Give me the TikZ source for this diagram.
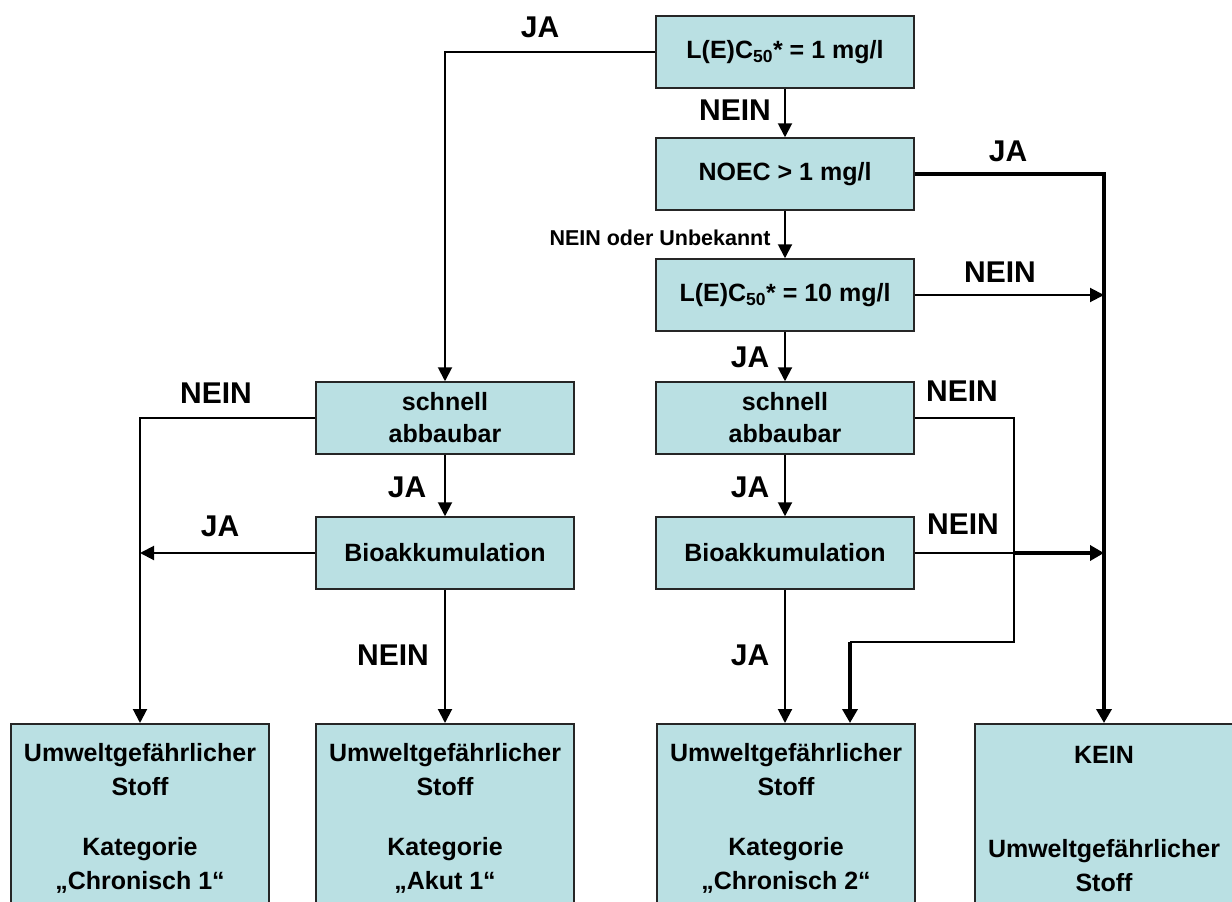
\documentclass[tikz,border=0pt]{standalone}
\usepackage{fontspec}
\setmainfont{Liberation Sans}
\usetikzlibrary{arrows.meta}

\definecolor{boxfill}{RGB}{186,224,227}

\begin{document}
\begin{tikzpicture}[x=1pt, y=-1pt]
\tikzstyle{box}=[rectangle, draw=black!85, line width=1.5pt, fill=boxfill, minimum width=258pt, minimum height=72pt, inner sep=2pt, align=center, font=\fontsize{25}{32}\selectfont\bfseries]
\tikzstyle{endbox}=[box, anchor=north, minimum height=190pt, font=\fontsize{25}{34}\selectfont\bfseries]
\tikzstyle{lbl}=[font=\fontsize{30}{32}\selectfont\bfseries]
\tikzstyle{drawstyle}=[line width=2pt, -{Triangle[length=14pt,width=14pt]}]
\tikzstyle{thickstyle}=[line width=4.5pt, -{Triangle[length=14pt,width=15pt]}]

\useasboundingbox (0,0) rectangle (1232,902);

% right column
\node[box] (lec1) at (785,52) {L(E)C\textsubscript{50}* = 1 mg/l};
\node[box] (noec) at (785,174) {NOEC > 1 mg/l};
\node[box] (lec10) at (785,295) {L(E)C\textsubscript{50}* = 10 mg/l};
\node[box] (abbauR) at (785,418) {schnell\\abbaubar};
\node[box] (bioR) at (785,553) {Bioakkumulation};

% left column
\node[box] (abbauL) at (445,418) {schnell\\abbaubar};
\node[box] (bioL) at (445,553) {Bioakkumulation};

% results
\node[endbox] (chron1) at (140,723) {Umweltgefährlicher\\Stoff\\[26pt]Kategorie\\„Chronisch 1“};
\node[endbox] (akut1) at (445,723) {Umweltgefährlicher\\Stoff\\[26pt]Kategorie\\„Akut 1“};
\node[endbox] (chron2) at (786,723) {Umweltgefährlicher\\Stoff\\[26pt]Kategorie\\„Chronisch 2“};
\node[endbox] (kein) at (1104,723) {KEIN\\[60pt]Umweltgefährlicher\\Stoff};

\coordinate (k1) at (1014,642);
\coordinate (k2) at (850,642);
\coordinate (k3) at (1014,553);

\draw[drawstyle] (lec1.west) -| (abbauL.north);
\draw[drawstyle] (lec1.south) -- (noec.north);
\draw[thickstyle] (noec.east) -| (kein.north);
\draw[drawstyle] (noec.south) -- (lec10.north);
\draw[drawstyle] (lec10.east) -- (kein.north |- lec10.east);
\draw[drawstyle] (lec10.south) -- (abbauR.north);
\draw[drawstyle] (abbauR.south) -- (bioR.north);
\draw[line width=2pt] (abbauR.east) -| (k1) -- (k2);
\draw[thickstyle] (k2) -- (k2 |- chron2.north);
\draw[line width=2pt] (bioR.east) -- (k3);
\draw[thickstyle, line width=3.5pt] (k3) -- (kein.north |- k3);
\draw[drawstyle] (bioR.south) -- (bioR.south |- chron2.north);
\draw[drawstyle] (abbauL.south) -- (bioL.north);
\draw[drawstyle] (abbauL.west) -| (chron1.north);
\draw[drawstyle] (bioL.west) -- (chron1.north |- bioL.west);
\draw[drawstyle] (bioL.south) -- (akut1.north);

% labels
\node[lbl] (l1) at (540,27) {JA};
\node[lbl] (l2) at (735,110) {NEIN};
\node[lbl] (l3) at (1008,151) {JA};
\node[font=\fontsize{21.5}{22}\selectfont\bfseries] (l4) at (660,238) {NEIN oder Unbekannt};
\node[lbl] (l5) at (1000,272) {NEIN};
\node[lbl] (l6) at (750,357) {JA};
\node[lbl] (l7) at (216,393) {NEIN};
\node[lbl] (l8) at (962,391) {NEIN};
\node[lbl] (l9) at (407,487) {JA};
\node[lbl] (l10) at (750,487) {JA};
\node[lbl] (l11) at (220,526) {JA};
\node[lbl] (l12) at (963,524) {NEIN};
\node[lbl] (l13) at (393,655) {NEIN};
\node[lbl] (l14) at (750,655) {JA};
\end{tikzpicture}
\end{document}
